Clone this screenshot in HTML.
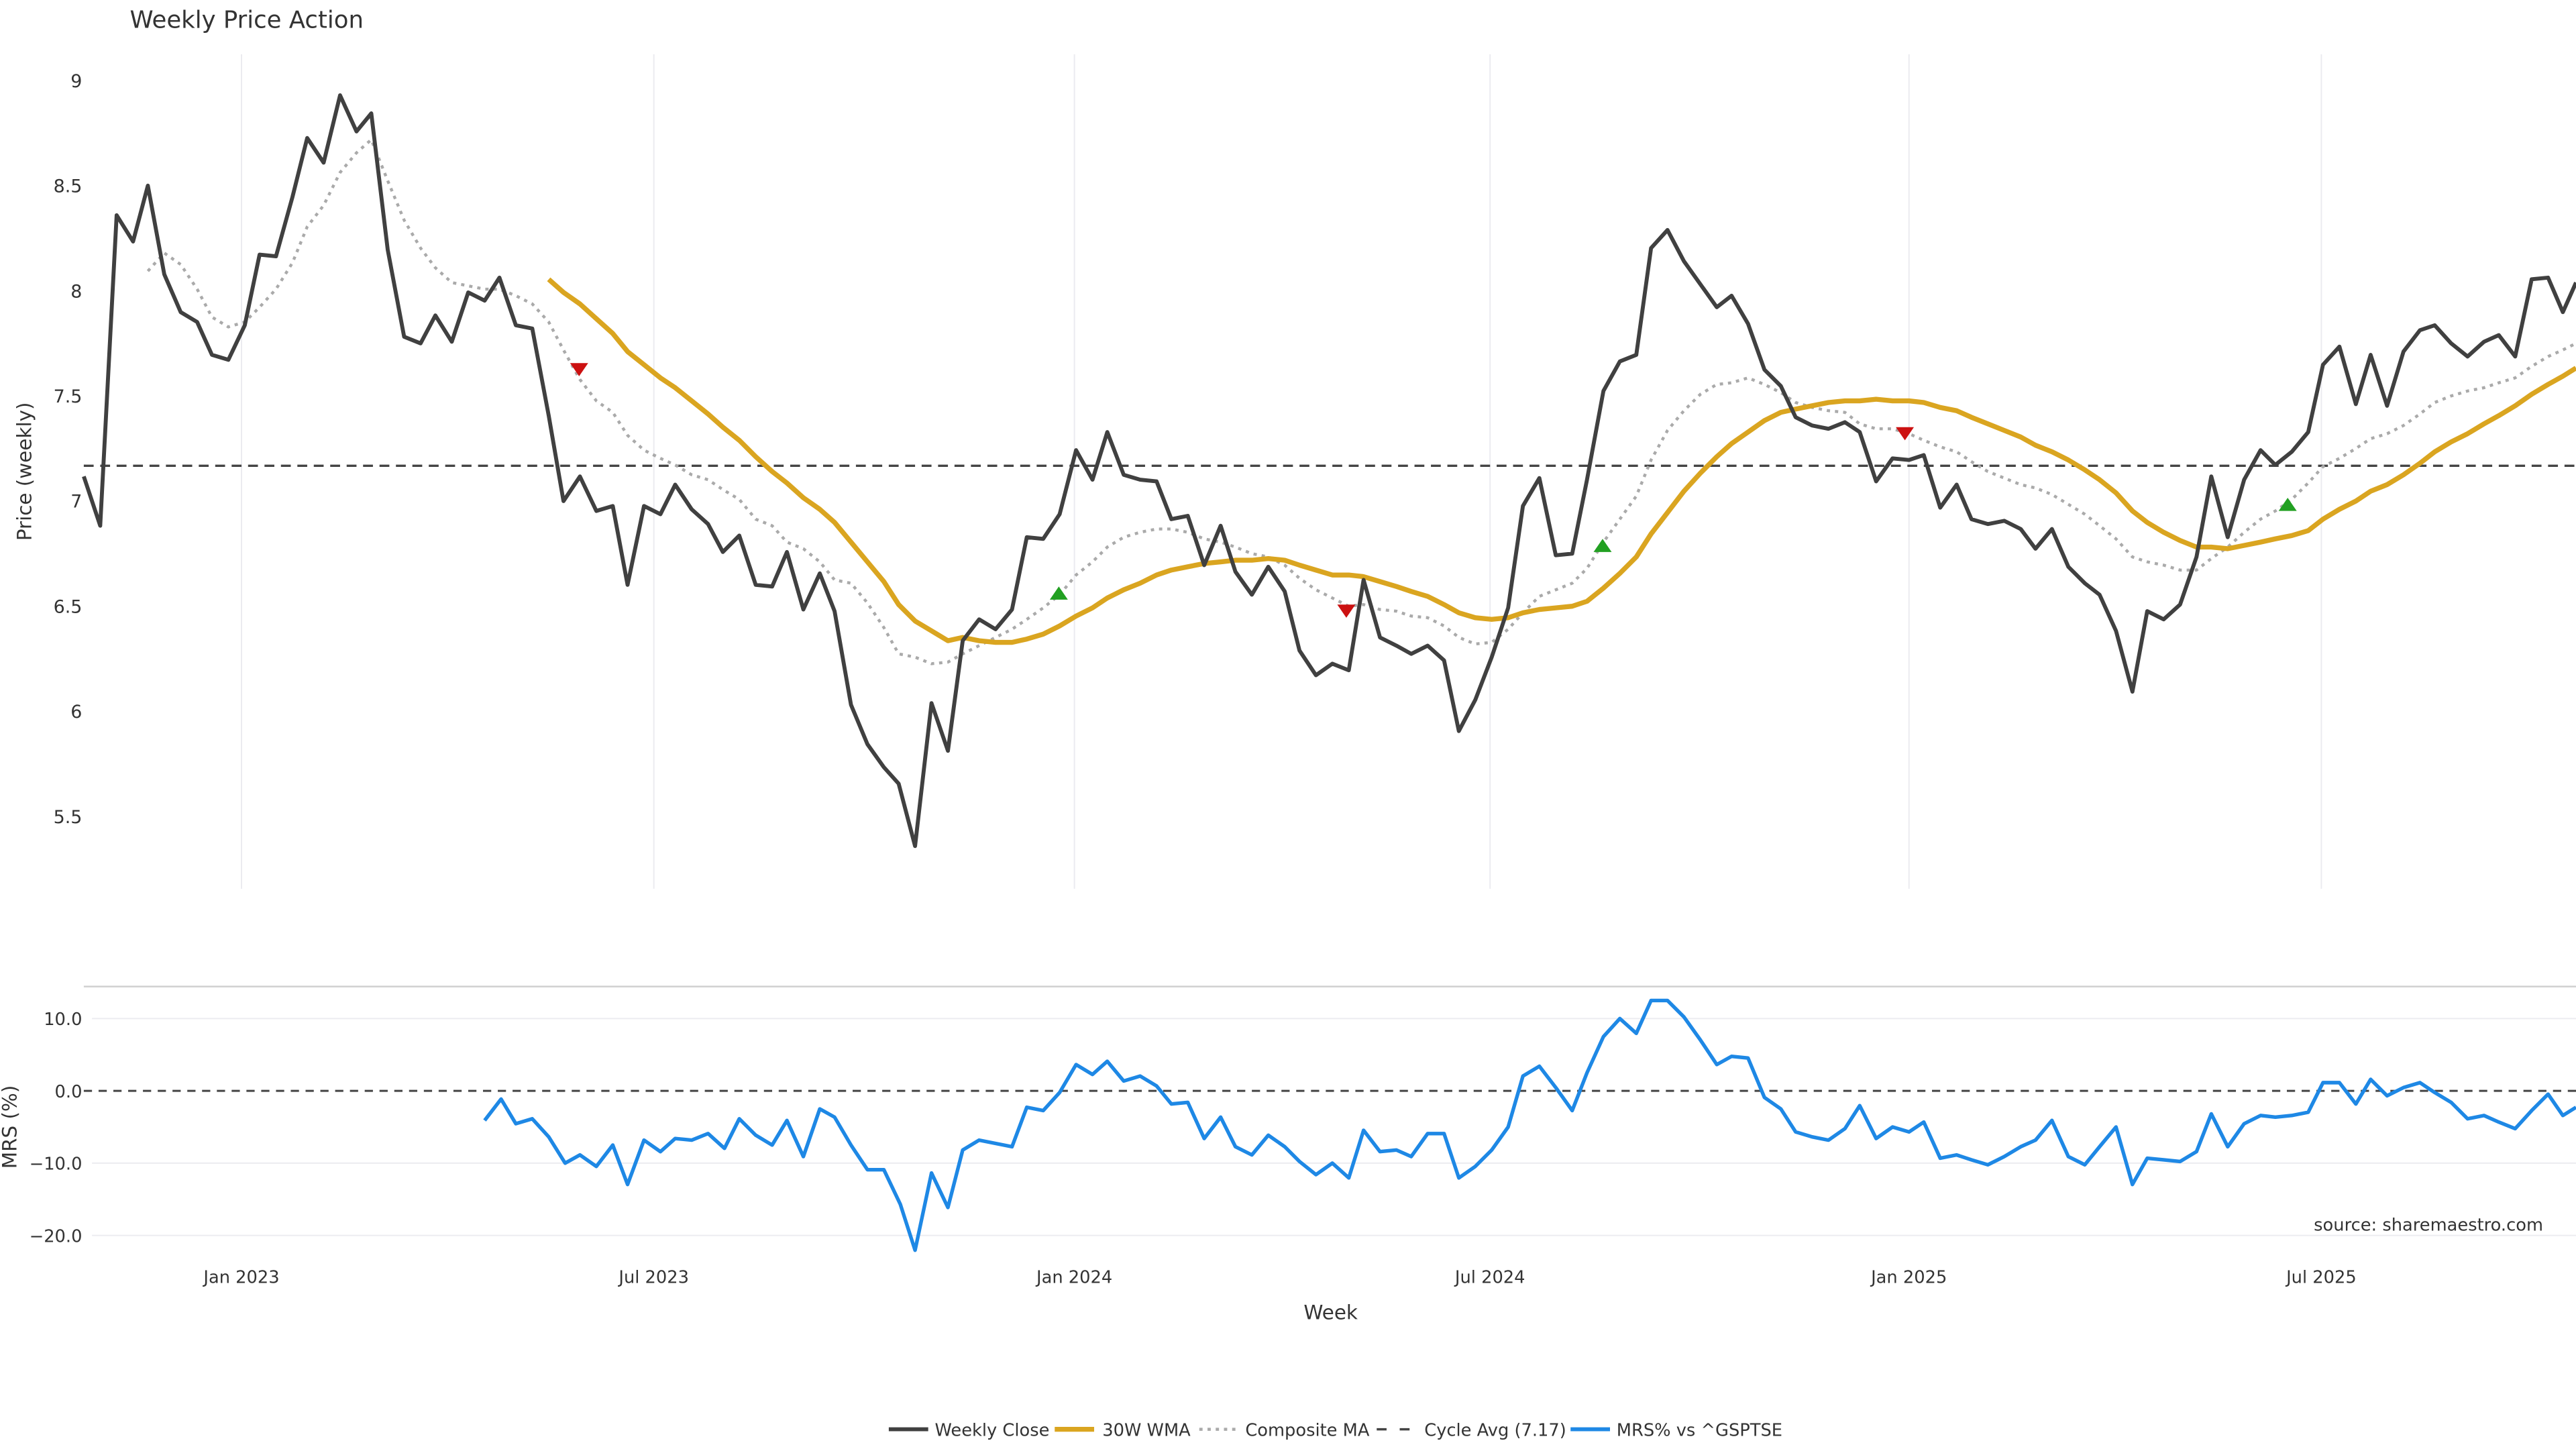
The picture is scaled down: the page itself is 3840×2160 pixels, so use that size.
<!DOCTYPE html>
<html><head><meta charset="utf-8"><style>html,body{margin:0;padding:0;background:#fff}svg{display:block}text{font-family:"DejaVu Sans","Liberation Sans",sans-serif;fill:#333}</style></head>
<body>
<svg width="3840" height="2160" viewBox="0 0 1568 882" xmlns="http://www.w3.org/2000/svg">
<rect width="1568" height="882" fill="#fff"/>
<text x="79" y="17" font-size="14.5" fill="#333">Weekly Price Action</text>
<g stroke="#ebebf0" stroke-width="0.8">
<line x1="147" y1="33" x2="147" y2="541"/><line x1="398" y1="33" x2="398" y2="541"/><line x1="654" y1="33" x2="654" y2="541"/><line x1="907" y1="33" x2="907" y2="541"/><line x1="1162" y1="33" x2="1162" y2="541"/><line x1="1413" y1="33" x2="1413" y2="541"/>
</g>
<g font-size="11" text-anchor="end">
<text x="50" y="53">9</text><text x="50" y="117">8.5</text><text x="50" y="181">8</text><text x="50" y="245">7.5</text><text x="50" y="309">7</text><text x="50" y="373">6.5</text><text x="50" y="437">6</text><text x="50" y="501">5.5</text>
</g>
<text transform="translate(19,287) rotate(-90)" font-size="12" text-anchor="middle">Price (weekly)</text>
<line x1="51" y1="283.5" x2="1568" y2="283.5" stroke="#444" stroke-width="1.4" stroke-dasharray="6,4"/>
<polyline fill="none" stroke="#aaa" stroke-width="1.8" stroke-dasharray="2,3" points="90,165 100,154 110,161 120,176 129,193 139,199 149,196 158,187 168,176 178,160 187,138 197,125 207,105 217,93 226,85 236,110 246,134 256,151 265,163 275,172 285,174 295,176 304,176 314,180 324,185 334,196 343,213 353,231 363,244 373,251 382,265 392,274 402,279 411,283 421,289 431,292 440,298 450,304 460,316 470,320 479,330 489,334 499,342 508,353 518,355 528,367 538,382 547,398 557,400 567,404 577,403 586,398 596,393 606,388 616,383 625,377 635,370 645,362 655,350 665,342 674,333 684,327 694,324 704,322 713,322 723,324 733,328 743,330 752,333 762,337 772,339 782,344 791,352 801,359 811,364 821,369 830,368 840,371 850,372 859,375 869,376 879,381 888,388 898,392 908,391 918,383 927,373 937,363 947,359 957,355 966,346 976,330 986,316 996,302 1005,280 1015,262 1025,250 1035,240 1045,234 1054,233 1064,230 1074,234 1084,239 1093,245 1103,248 1113,250 1123,251 1132,258 1142,261 1152,261 1162,264 1171,268 1181,272 1191,275 1200,281 1210,287 1220,291 1230,295 1239,297 1249,301 1259,307 1269,313 1278,320 1288,328 1298,339 1307,342 1317,344 1327,347 1337,347 1346,340 1356,333 1366,324 1376,316 1385,311 1395,304 1405,294 1414,284 1424,279 1434,273 1443,267 1453,264 1463,259 1473,252 1482,245 1492,241 1502,238 1512,236 1521,233 1531,230 1541,223 1551,217 1560,213 1568,209"/>
<polyline fill="none" stroke="#DAA520" stroke-width="3" stroke-linejoin="round" points="334,170 343,178 353,185 363,194 373,203 382,214 392,222 402,230 411,236 421,244 431,252 440,260 450,268 460,278 470,287 479,294 489,303 499,310 508,318 518,330 528,342 538,354 547,368 557,378 567,384 577,390 586,388 596,390 606,391 616,391 625,389 635,386 645,381 655,375 665,370 674,364 684,359 694,355 704,350 713,347 723,345 733,343 743,342 752,341 762,341 772,340 782,341 791,344 801,347 811,350 821,350 830,351 840,354 850,357 859,360 869,363 879,368 888,373 898,376 908,377 918,376 927,373 937,371 947,370 957,369 966,366 976,358 986,349 996,339 1005,325 1015,312 1025,299 1035,288 1045,278 1054,270 1064,263 1074,256 1084,251 1093,249 1103,247 1113,245 1123,244 1132,244 1142,243 1152,244 1162,244 1171,245 1181,248 1191,250 1200,254 1210,258 1220,262 1230,266 1239,271 1249,275 1259,280 1269,286 1278,292 1288,300 1298,311 1307,318 1317,324 1327,329 1337,333 1346,333 1356,334 1366,332 1376,330 1385,328 1395,326 1405,323 1414,316 1424,310 1434,305 1443,299 1453,295 1463,289 1473,282 1482,275 1492,269 1502,264 1512,258 1521,253 1531,247 1541,240 1551,234 1560,229 1568,224"/>
<polyline fill="none" stroke="#404040" stroke-width="2.4" stroke-linejoin="round" points="51,290 61,320 71,131 81,147 90,113 100,167 110,190 120,196 129,216 139,219 149,198 158,155 168,156 178,120 187,84 197,99 207,58 217,80 226,69 236,152 246,205 256,209 265,192 275,208 285,178 295,183 304,169 314,198 324,200 334,253 343,305 353,290 363,311 373,308 382,356 392,308 402,313 411,295 421,310 431,319 440,336 450,326 460,356 470,357 479,336 489,371 499,349 508,372 518,429 528,453 538,467 547,477 557,515 567,428 577,457 586,390 596,377 606,383 616,371 625,327 635,328 645,313 655,274 665,292 674,263 684,289 694,292 704,293 713,316 723,314 733,344 743,320 752,348 762,362 772,345 782,360 791,396 801,411 811,404 821,408 830,353 840,388 850,393 859,398 869,393 879,402 888,445 898,426 908,400 918,370 927,308 937,291 947,338 957,337 966,292 976,238 986,220 996,216 1005,151 1015,140 1025,159 1035,173 1045,187 1054,180 1064,197 1074,225 1084,235 1093,254 1103,259 1113,261 1123,257 1132,263 1142,293 1152,279 1162,280 1171,277 1181,309 1191,295 1200,316 1210,319 1220,317 1230,322 1239,334 1249,322 1259,345 1269,355 1278,362 1288,384 1298,421 1307,372 1317,377 1327,368 1337,339 1346,290 1356,327 1366,292 1376,274 1385,283 1395,275 1405,263 1414,222 1424,211 1434,246 1443,216 1453,247 1463,214 1473,201 1482,198 1492,209 1502,217 1512,208 1521,204 1531,217 1541,170 1551,169 1560,190 1568,172"/>
<g fill="#cc1111"><polygon points="347,221 358,221 352.5,229"/><polygon points="814,368 825,368 819.5,376"/><polygon points="1154,260 1165,260 1159.5,268"/></g>
<g fill="#22a022"><polygon points="639,365 650,365 644.5,357"/><polygon points="970,336 981,336 975.5,328"/><polygon points="1387,311 1398,311 1392.5,303"/></g>
<line x1="51" y1="600.5" x2="1568" y2="600.5" stroke="#d0d0d0" stroke-width="1"/>
<g stroke="#ececf0" stroke-width="0.8"><line x1="56" y1="620" x2="1568" y2="620"/><line x1="56" y1="708" x2="1568" y2="708"/><line x1="56" y1="752" x2="1568" y2="752"/></g>
<line x1="51" y1="664" x2="1568" y2="664" stroke="#444" stroke-width="1.2" stroke-dasharray="5,4"/>
<g font-size="10.5" text-anchor="end"><text x="50" y="624">10.0</text><text x="50" y="668">0.0</text><text x="50" y="712">−10.0</text><text x="50" y="756">−20.0</text></g>
<text transform="translate(10,686) rotate(-90)" font-size="12" text-anchor="middle">MRS (%)</text>
<polyline fill="none" stroke="#1E88E5" stroke-width="2.2" stroke-linejoin="round" points="295,682 305,669 314,684 324,681 334,692 344,708 353,703 363,710 373,697 382,721 392,694 402,701 411,693 421,694 431,690 441,699 450,681 460,691 470,697 479,682 489,704 499,675 508,680 518,697 528,712 538,712 548,733 557,761 567,714 577,735 586,700 596,694 606,696 616,698 625,674 635,676 645,665 655,648 665,654 674,646 684,658 694,655 704,661 713,672 723,671 733,693 743,680 752,698 762,703 772,691 782,698 791,707 801,715 811,708 821,717 830,688 840,701 850,700 859,704 869,690 879,690 888,717 898,710 908,700 918,686 927,655 937,649 947,662 957,676 966,653 976,631 986,620 996,629 1005,609 1015,609 1025,619 1035,633 1045,648 1054,643 1064,644 1074,668 1084,675 1093,689 1103,692 1113,694 1123,687 1132,673 1142,693 1152,686 1162,689 1171,683 1181,705 1191,703 1200,706 1210,709 1220,704 1230,698 1239,694 1249,682 1259,704 1269,709 1278,698 1288,686 1298,721 1307,705 1317,706 1327,707 1337,701 1346,678 1356,698 1366,684 1376,679 1385,680 1395,679 1405,677 1414,659 1424,659 1434,672 1443,657 1453,667 1463,662 1473,659 1482,665 1492,671 1502,681 1512,679 1521,683 1531,687 1541,676 1551,666 1560,679 1568,674"/>
<text x="1548" y="749" font-size="10.5" text-anchor="end" fill="#999">source: sharemaestro.com</text>
<g font-size="10.5" text-anchor="middle"><text x="147" y="781">Jan 2023</text><text x="398" y="781">Jul 2023</text><text x="654" y="781">Jan 2024</text><text x="907" y="781">Jul 2024</text><text x="1162" y="781">Jan 2025</text><text x="1413" y="781">Jul 2025</text></g>
<text x="810" y="803" font-size="12" text-anchor="middle">Week</text>
<g font-size="10.5">
<line x1="541" y1="870" x2="565" y2="870" stroke="#404040" stroke-width="2.4"/><text x="569" y="874">Weekly Close</text>
<line x1="642" y1="870" x2="666" y2="870" stroke="#DAA520" stroke-width="3"/><text x="671" y="874">30W WMA</text>
<line x1="730" y1="870" x2="754" y2="870" stroke="#aaa" stroke-width="1.8" stroke-dasharray="2,3"/><text x="758" y="874">Composite MA</text>
<line x1="838" y1="870" x2="862" y2="870" stroke="#444" stroke-width="1.4" stroke-dasharray="6,8"/><text x="867" y="874">Cycle Avg (7.17)</text>
<line x1="956" y1="870" x2="980" y2="870" stroke="#1E88E5" stroke-width="2.4"/><text x="984" y="874">MRS% vs ^GSPTSE</text>
</g>
</svg>
</body></html>
